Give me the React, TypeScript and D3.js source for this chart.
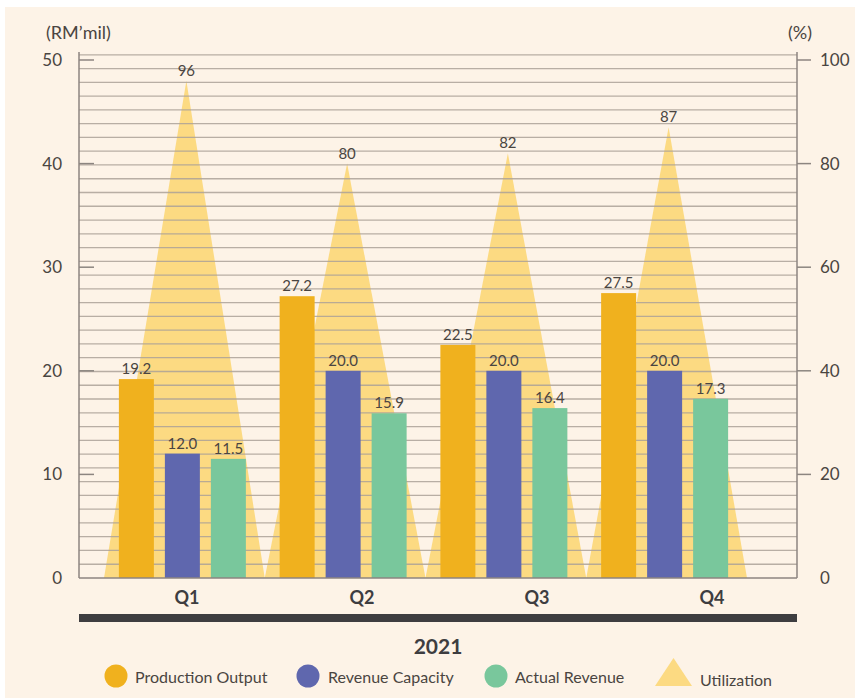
import React, { useRef, useEffect } from 'react';
import * as d3 from 'd3';

const quarters = ['Q1', 'Q2', 'Q3', 'Q4'];
const seriesNames = ['Production Output', 'Revenue Capacity', 'Actual Revenue'];
const productionOutput = [19.2, 27.2, 22.5, 27.5];
const revenueCapacity = [12.0, 20.0, 20.0, 20.0];
const actualRevenue = [11.5, 15.9, 16.4, 17.3];
const utilization = [96, 80, 82, 87];
const leftTicks = [0, 10, 20, 30, 40, 50];
const rightTicks = [0, 20, 40, 60, 80, 100];
const yearLabel = '2021';

const colors = ['#f0b11e', '#5f67ae', '#79c79c'];
const triColor = '#fcda82';
const textColor = '#4a4541';
const font = 'Lato, "Open Sans", sans-serif';

const W = 860;
const H = 698;

const App = () => {
  const ref = useRef<SVGSVGElement>(null);

  useEffect(() => {
    const svg = d3.select(ref.current);
    svg.selectAll('*').remove();

    // background card
    svg.append('rect').attr('width', W).attr('height', H).attr('fill', '#ffffff');
    svg.append('rect')
      .attr('x', 5).attr('y', 7).attr('width', 850).attr('height', 691)
      .attr('fill', '#fdf3e7');

    const left = 79, right = 797, top = 60, base = 578;

    const yL = d3.scaleLinear().domain([0, 50]).range([base, top]);
    const yR = d3.scaleLinear().domain([0, 100]).range([base, top]);

    const x0 = d3.scaleBand().domain(quarters).range([104, 747]).padding(0);
    const x1 = d3.scaleBand().domain(seriesNames).range([-2, x0.bandwidth() - 2])
      .paddingInner(11 / 46).paddingOuter(0.367);
    const xLabel = d3.scalePoint().domain(quarters).range([187, 712]);

    // utilization triangles
    const tri = d3.line<[number, number]>();
    quarters.forEach((q, i) => {
      const x = x0(q)!;
      const bw = x0.bandwidth();
      svg.append('path')
        .attr('d', tri([[x, base], [x + bw / 2 + 2, yR(utilization[i])], [x + bw, base]]) + 'Z')
        .attr('fill', triColor);
    });

    // decorative gridlines
    const gridTop = 50.5;
    const gridCount = 38;
    d3.range(1, gridCount + 1).forEach(k => {
      const y = yL((k * gridTop) / gridCount);
      svg.append('line')
        .attr('x1', left).attr('x2', right).attr('y1', y).attr('y2', y)
        .attr('stroke', '#aba198').attr('stroke-opacity', 0.85).attr('stroke-width', 1.3);
    });

    // bars
    const series = [productionOutput, revenueCapacity, actualRevenue];
    quarters.forEach((q, i) => {
      series.forEach((vals, s) => {
        const x = x0(q)! + x1(seriesNames[s])!;
        svg.append('rect')
          .attr('x', x).attr('y', yL(vals[i]))
          .attr('width', x1.bandwidth()).attr('height', base - yL(vals[i]))
          .attr('fill', colors[s]);
        svg.append('text')
          .attr('x', x + x1.bandwidth() / 2).attr('y', yL(vals[i]) - 5)
          .attr('text-anchor', 'middle')
          .attr('font-family', font).attr('font-size', 15)
          .attr('fill', textColor)
          .text(vals[i].toFixed(1));
      });
      svg.append('text')
        .attr('x', x0(q)! + x0.bandwidth() / 2 + 2).attr('y', yR(utilization[i]) - 5)
        .attr('text-anchor', 'middle')
        .attr('font-family', font).attr('font-size', 15)
        .attr('fill', textColor)
        .text(utilization[i]);
    });

    // axes
    const axisColor = '#8c8580';
    svg.append('line').attr('x1', left).attr('x2', left).attr('y1', 52).attr('y2', base)
      .attr('stroke', axisColor).attr('stroke-width', 1.5);
    svg.append('line').attr('x1', right).attr('x2', right).attr('y1', 52).attr('y2', base)
      .attr('stroke', axisColor).attr('stroke-width', 1.5);
    svg.append('line').attr('x1', left).attr('x2', right).attr('y1', base).attr('y2', base)
      .attr('stroke', axisColor).attr('stroke-width', 1.5);

    leftTicks.forEach(t => {
      const y = yL(t);
      if (t > 0) {
        svg.append('line').attr('x1', left).attr('x2', left + 15).attr('y1', y).attr('y2', y)
          .attr('stroke', axisColor).attr('stroke-width', 1.5);
      }
      svg.append('text')
        .attr('x', 62).attr('y', y).attr('dy', '0.35em')
        .attr('text-anchor', 'end')
        .attr('font-family', font).attr('font-size', 17)
        .attr('fill', textColor)
        .text(t);
    });
    rightTicks.forEach(t => {
      const y = yR(t);
      if (t > 0) {
        svg.append('line').attr('x1', right).attr('x2', right + 14).attr('y1', y).attr('y2', y)
          .attr('stroke', axisColor).attr('stroke-width', 1.5);
      }
      svg.append('text')
        .attr('x', 820).attr('y', y).attr('dy', '0.35em')
        .attr('text-anchor', 'start')
        .attr('font-family', font).attr('font-size', 17)
        .attr('fill', textColor)
        .text(t);
    });

    svg.append('text').attr('x', 46).attr('y', 39)
      .attr('font-family', font).attr('font-size', 18).attr('fill', textColor)
      .text('(RM\u2019mil)');
    svg.append('text').attr('x', 788).attr('y', 39)
      .attr('font-family', font).attr('font-size', 18).attr('fill', textColor)
      .text('(%)');

    // quarter labels
    quarters.forEach(q => {
      svg.append('text')
        .attr('x', xLabel(q)!).attr('y', 604)
        .attr('text-anchor', 'middle')
        .attr('font-family', font).attr('font-size', 18).attr('font-weight', 'bold')
        .attr('fill', '#3e3d40')
        .text(q);
    });

    svg.append('rect').attr('x', left).attr('y', 614).attr('width', right - left).attr('height', 8)
      .attr('fill', '#3e3d40');

    svg.append('text')
      .attr('x', 438).attr('y', 654)
      .attr('text-anchor', 'middle')
      .attr('font-family', font).attr('font-size', 21).attr('font-weight', 'bold')
      .attr('fill', '#3e3d40')
      .text(yearLabel);

    // legend
    const legend = [
      { cx: 116, tx: 135, label: seriesNames[0], color: colors[0] },
      { cx: 308, tx: 328, label: seriesNames[1], color: colors[1] },
      { cx: 496, tx: 515, label: seriesNames[2], color: colors[2] },
    ];
    legend.forEach(l => {
      svg.append('circle').attr('cx', l.cx).attr('cy', 676).attr('r', 11.5).attr('fill', l.color);
      svg.append('text').attr('x', l.tx).attr('y', 683)
        .attr('font-family', font).attr('font-size', 16).attr('fill', textColor)
        .text(l.label);
    });
    svg.append('path')
      .attr('d', tri([[655, 686], [673.5, 658], [692, 686]]) + 'Z')
      .attr('fill', triColor);
    svg.append('text').attr('x', 700).attr('y', 686)
      .attr('font-family', font).attr('font-size', 16).attr('fill', textColor)
      .text('Utilization');
  }, []);

  return (
    <svg ref={ref} width={W} height={H} style={{ position: 'absolute', left: 0, top: 0 }} />
  );
};

export default App;
